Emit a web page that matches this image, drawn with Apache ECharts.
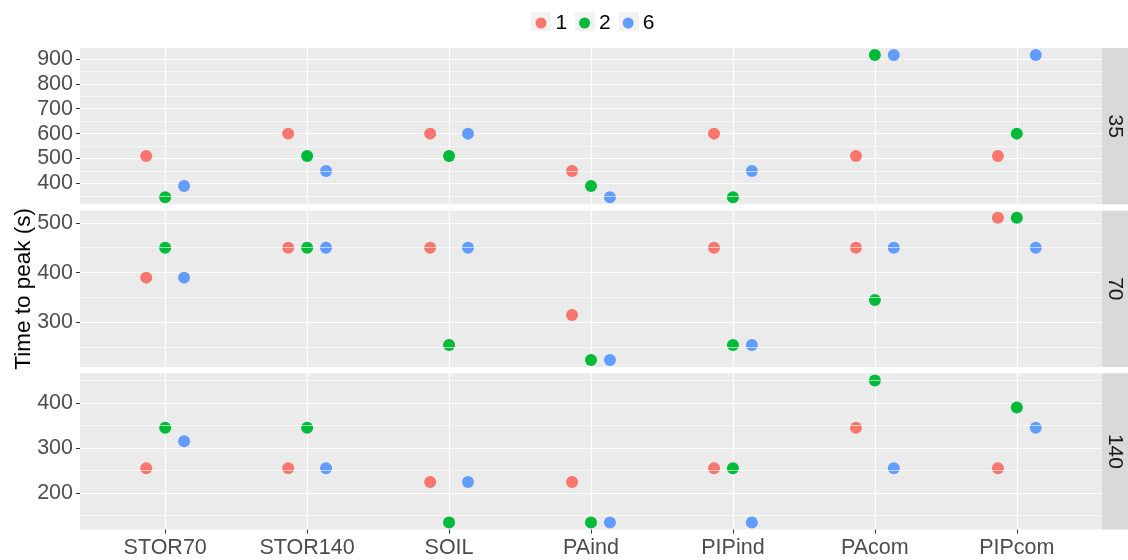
<!DOCTYPE html>
<html>
<head>
<meta charset="utf-8">
<script src="https://cdn.jsdelivr.net/npm/echarts@6/dist/echarts.min.js"></script>
<style>html,body{margin:0;padding:0;background:#fff}#c{width:1128px;height:560px}</style>
</head>
<body>
<div id="c"></div>
<script>
// ---- data ----
const categories = ['STOR70', 'STOR140', 'SOIL', 'PAind', 'PIPind', 'PAcom', 'PIPcom'];
const groups = ['1', '2', '6'];
const panels = ['35', '70', '140'];

const p35_g1 = [510, 600, 600, 450, 600, 510, 510];
const p35_g2 = [345, 510, 510, 390, 345, 915, 600];
const p35_g6 = [390, 450, 600, 345, 450, 915, 915];

const p70_g1 = [390, 450, 450, 315, 450, 450, 510];
const p70_g2 = [450, 450, 255, 225, 255, 345, 510];
const p70_g6 = [390, 450, 450, 225, 255, 450, 450];

const p140_g1 = [255, 255, 225, 225, 255, 345, 255];
const p140_g2 = [345, 345, 135, 135, 255, 450, 390];
const p140_g6 = [315, 255, 225, 135, 135, 255, 345];

const majorTicks35 = [400, 500, 600, 700, 800, 900];
const minorTicks35 = [350, 450, 550, 650, 750, 850];
const majorTicks70 = [300, 400, 500];
const minorTicks70 = [250, 350, 450];
const majorTicks140 = [200, 300, 400];
const minorTicks140 = [150, 250, 350, 450];

// ---- build ----
const panelData = [
  [p35_g1, p35_g2, p35_g6],
  [p70_g1, p70_g2, p70_g6],
  [p140_g1, p140_g2, p140_g6]
];
const majors = [majorTicks35, majorTicks70, majorTicks140];
const minors = [minorTicks35, minorTicks70, minorTicks140];
const colors = ['#F8766D', '#00BA38', '#619CFF'];
const FONT = '"Liberation Sans", Arial, sans-serif';
const dodge = 0.4 / 3;
const catIdx = categories.map((c, i) => i + 1);

const plotLeft = 80, plotRight = 1102;
const panelTops = [48, 210.7, 373.3];
const panelH = 156.3;

const grids = [], xAxes = [], yAxes = [], series = [], graphics = [];

panelData.forEach((gs, p) => {
  const all = [].concat(...gs);
  const lo = Math.min(...all), hi = Math.max(...all);
  const pad = (hi - lo) * 0.05;
  grids.push({
    left: plotLeft, width: plotRight - plotLeft, top: panelTops[p], height: panelH,
    show: true, backgroundColor: '#EBEBEB', borderWidth: 0,
    containLabel: false, outerBoundsMode: 'none'
  });
  xAxes.push({
    type: 'value', gridIndex: p, min: 0.4, max: 7.6,
    axisLine: { show: false },
    axisTick: { show: p === 2, customValues: catIdx, length: 4, lineStyle: { color: '#333333', width: 1 } },
    axisLabel: {
      show: p === 2, customValues: catIdx, margin: 7,
      formatter: v => categories[Math.round(v) - 1] || '',
      color: '#4D4D4D', fontSize: 21.5, fontFamily: FONT
    },
    splitLine: { show: true, lineStyle: { color: '#FFFFFF', width: 1.2 } }
  });
  yAxes.push({
    type: 'value', gridIndex: p, min: lo - pad, max: hi + pad,
    axisLine: { show: false },
    axisTick: { show: true, customValues: majors[p], length: 4, lineStyle: { color: '#333333', width: 1 } },
    axisLabel: { customValues: majors[p], margin: 7, color: '#4D4D4D', fontSize: 21.5, fontFamily: FONT },
    splitLine: { show: true, lineStyle: { color: '#FFFFFF', width: 1.2 } },
    name: p === 1 ? 'Time to peak (s)' : '',
    nameLocation: 'middle', nameGap: 45, nameMoveOverlap: false,
    nameTextStyle: { color: '#000000', fontSize: 22.5, fontFamily: FONT }
  });
  series.push({
    type: 'line', xAxisIndex: p, yAxisIndex: p, data: [], silent: true, z: 1,
    markLine: {
      silent: true, symbol: 'none', label: { show: false }, animation: false,
      lineStyle: { color: '#FFFFFF', width: 0.6, type: 'solid' },
      data: minors[p].map(v => ({ yAxis: v }))
    }
  });
  gs.forEach((vals, g) => {
    series.push({
      type: 'scatter', name: groups[g], xAxisIndex: p, yAxisIndex: p, z: 3,
      symbol: 'circle', symbolSize: 12,
      itemStyle: { color: colors[g], opacity: 1 },
      data: vals.map((v, i) => [catIdx[i] + (g - 1) * dodge, v])
    });
  });
  // strip
  graphics.push({
    type: 'rect', shape: { x: plotRight, y: panelTops[p], width: 1128 - plotRight, height: panelH },
    style: { fill: '#D9D9D9' }, silent: true
  });
  graphics.push({
    type: 'text', x: plotRight + 13, y: panelTops[p] + panelH / 2, rotation: -Math.PI / 2,
    style: { text: panels[p], fill: '#1A1A1A', font: '21px ' + FONT, align: 'center', verticalAlign: 'middle' },
    silent: true
  });
});

// legend key backgrounds
[531, 575, 619].forEach(x => {
  graphics.push({ type: 'rect', shape: { x: x, y: 12, width: 20, height: 19 }, style: { fill: '#F2F2F2' }, silent: true, z: -1 });
});

const chart = echarts.init(document.getElementById('c'), null, { renderer: 'canvas' });
chart.setOption({
  animation: false,
  backgroundColor: '#FFFFFF',
  textStyle: { fontFamily: FONT },
  legend: {
    data: groups, left: 530.5, top: 7.5, icon: 'circle', itemWidth: 11, itemHeight: 11,
    itemGap: 11.9, z: 5,
    textStyle: { color: '#000000', fontSize: 21, fontFamily: FONT, padding: [0, 0, 0, 4] }
  },
  grid: grids, xAxis: xAxes, yAxis: yAxes, series: series,
  graphic: { elements: graphics }
});
</script>
</body>
</html>
